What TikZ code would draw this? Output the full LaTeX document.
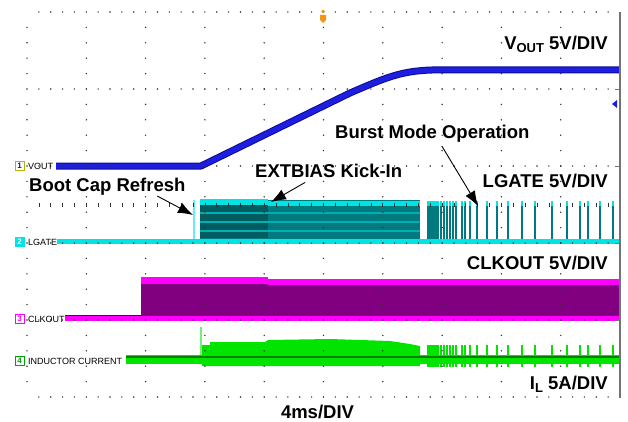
\documentclass[tikz,border=0pt]{standalone}
\usepackage{fontspec}
\setmainfont{Liberation Sans}
\usetikzlibrary{arrows.meta}

\definecolor{voutblue}{RGB}{30,30,225}
\definecolor{voutdark}{RGB}{10,10,150}
\definecolor{lgcyan}{RGB}{0,228,228}
\definecolor{lgteal}{RGB}{0,122,126}
\definecolor{clkmag}{RGB}{255,0,255}
\definecolor{clkpurp}{RGB}{128,0,128}
\definecolor{ilgreen}{RGB}{0,228,0}
\definecolor{ildark}{RGB}{0,130,0}
\definecolor{trigorange}{RGB}{240,150,20}

\begin{document}
\begin{tikzpicture}[x=1pt,y=-1pt]
\useasboundingbox (0,0) rectangle (628,422);
\tikzset{
	lbl/.style={font=\fontsize{18.5}{20}\selectfont\bfseries, inner sep=0pt},
	chlbl/.style={font=\fontsize{9}{10}\selectfont, inner sep=0pt, anchor=west},
	chmark/.style={draw, line width=0.8pt, minimum width=9pt, minimum height=9pt,
		inner sep=0pt, font=\fontsize{8}{8}\selectfont\bfseries},
	callout/.style={black, line width=0.9pt, -{Latex[length=15pt,width=11pt]}},
	griddot/.style={fill=black!80},
}
\def\burstlist{428,430,432,434,436,438,441,444,447,450,453,456,462,465,470,477,487,497,508,522,535,552,567,580,588,600,613}

% VOUT trace
\draw[voutdark, double=voutblue, double distance=5pt, line width=1pt, line join=round]
	(56,166) -- (201,166) -- (350,93) .. controls (385,78) and (400,71) .. (432,70) -- (620,70);

% LGATE trace
\draw[lgcyan!60!white, line width=1.2pt] (194,241) -- (194,200);
\fill[lgteal] (200,200) rectangle (420,243);
\fill[lgteal!75!black] (200,205) rectangle (268,238);
\foreach \y in {213,222,231}
	\draw[lgcyan!50!lgteal, line width=1.2pt] (200,\y) -- (420,\y);
\fill[lgcyan] (200,199) rectangle (268,205);
\fill[lgcyan] (268,201) rectangle (420,206);
\foreach \x in \burstlist {
	\draw[lgteal, line width=1.4pt] (\x,204) -- (\x,240);
	\fill[lgcyan] (\x-1.2,201) rectangle (\x+1.2,206);
}
\draw[lgcyan, line width=5pt] (57,241) -- (620,241);

% CLKOUT trace
\draw[clkpurp!70!black, line width=1pt] (65,315) -- (141,315);
\fill[clkpurp] (141,280) rectangle (620,318);
\fill[clkmag] (141,277) rectangle (268,284);
\fill[clkmag] (268,279) rectangle (620,285);
\draw[clkmag, line width=4.5pt] (65,318.5) -- (620,318.5);

% inductor current trace
\draw[ilgreen!55!white, line width=1.3pt] (201,359) -- (201,327);
\fill[ilgreen] (202,366) -- (202,345) -- (210,345) -- (210,342) -- (265,342) -- (268,340)
	-- (330,339) -- (390,341) -- (410,344) -- (420,346) -- (420,366) -- cycle;
\foreach \x in \burstlist
	\draw[ilgreen, line width=1.4pt] (\x,345) -- (\x,367);
\fill[ilgreen] (126,355) rectangle (620,364);
\draw[ildark, line width=1.5pt] (126,357) -- (620,357);

% graticule
\foreach \k in {0,...,9}
	\foreach \j in {1,...,24}
		\fill[griddot] (27+59.3*\k,12+15.4*\j) circle (0.8pt);
\foreach \i in {0,...,5}
	\foreach \m in {1,...,49}
		\fill[griddot] (27+11.86*\m,12+77*\i) circle (0.8pt);
\foreach \m in {1,...,49}
	\draw[black!80, line width=0.7pt] (27+11.86*\m,202.5) -- ++(0,4);
\draw[black!55, line width=1.2pt] (620,12) -- (620,398);
\foreach \i in {1,...,4}
	\draw[black!55, line width=0.8pt] (615,12+77*\i) -- (620,12+77*\i);

% trigger and level markers
\fill[trigorange] (323,9.5) -- (325,11.5) -- (323,13.5) -- (321,11.5) -- cycle;
\fill[trigorange] (320,15) -- (326,15) -- (326,20) -- (323,23) -- (320,20) -- cycle;
\fill[voutblue] (612,104) -- (617,100) -- (617,108) -- cycle;

% channel markers
\node[chmark, draw=olive!60!yellow, text=blue] (m1) at (19.5,166) {1};
\node[chmark, draw=lgcyan, fill=lgcyan, text=white] (m2) at (19.5,242) {2};
\node[chmark, draw=clkmag, text=clkmag] (m3) at (19.5,319) {3};
\node[chmark, draw=ilgreen!70!black, text=ilgreen!70!black] (m4) at (19.5,361) {4};
\node[chlbl] (c1) at (28,166) {VOUT};
\node[chlbl] (c2) at (28,242) {LGATE};
\node[chlbl] (c3) at (28,319) {CLKOUT};
\node[chlbl] (c4) at (28,361) {INDUCTOR CURRENT};

% scale labels
\node[lbl, anchor=base east] (voutdiv) at (608,50)
	{V\raisebox{-0.3ex}{\fontsize{13}{13}\selectfont OUT} 5V/DIV};
\node[lbl, anchor=base east] (lgatediv) at (608,187) {LGATE 5V/DIV};
\node[lbl, anchor=base east] (clkdiv) at (608,269) {CLKOUT 5V/DIV};
\node[lbl, anchor=base east] (ildiv) at (608,389)
	{I\raisebox{-0.35ex}{\fontsize{13}{13}\selectfont L} 5A/DIV};
\node[lbl, anchor=base] (tdiv) at (317.5,418) {4ms/DIV};

% callouts
\node[lbl, anchor=base west] (boot) at (29,191) {Boot Cap Refresh};
\node[lbl, anchor=base west] (extbias) at (255,177) {EXTBIAS Kick-In};
\node[lbl, anchor=base west] (burst) at (335,139) {Burst Mode Operation};
\coordinate (bootend) at (193,215);
\coordinate (extend) at (271,202);
\coordinate (burstend) at (478,206);
\draw[callout] ([xshift=50pt,yshift=-1pt]boot.south) -- (bootend);
\draw[callout] ([xshift=-23.5pt,yshift=-5pt]extbias.south) -- (extend);
\draw[callout] ([xshift=9.5pt,yshift=-3pt]burst.south) -- (burstend);
\end{tikzpicture}
\end{document}
